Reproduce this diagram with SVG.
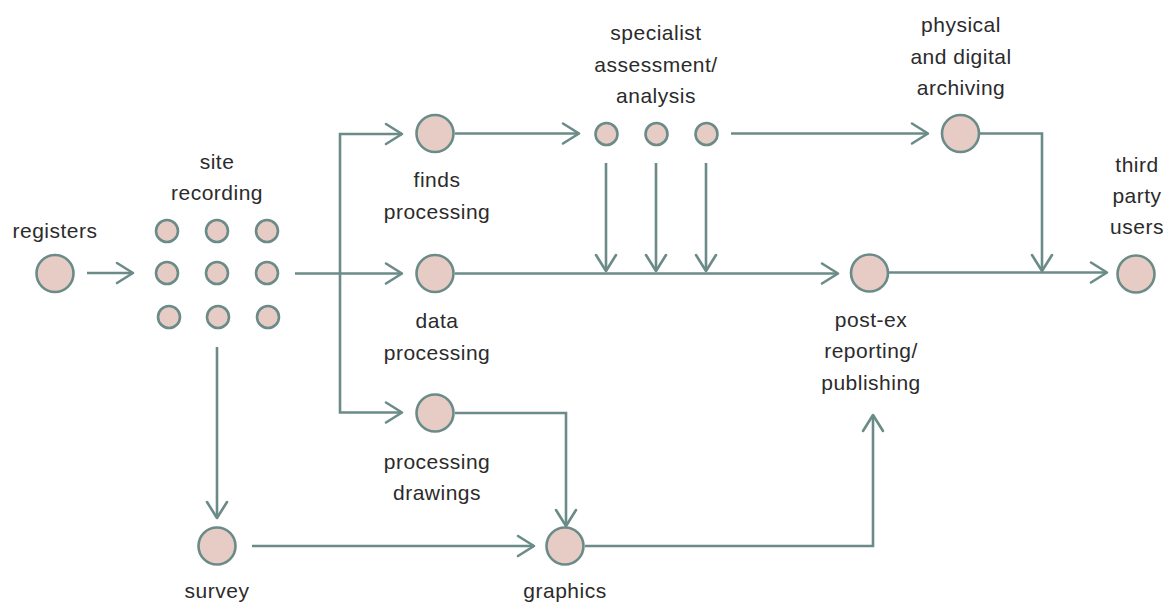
<svg xmlns="http://www.w3.org/2000/svg" width="1165" height="602" viewBox="0 0 1165 602">
<defs>
<style>
.n{fill:#e6ccc4;stroke:#6b8b88;stroke-width:2.6}
.c path{fill:none;stroke:#6b8b88;stroke-width:2.6;marker-end:url(#a)}
.c path.p{marker-end:none}
text{font-family:"Liberation Sans",Arial,sans-serif;font-size:21px;letter-spacing:0.5px;fill:#2b2b2b;text-anchor:middle}
</style>
<marker id="a" markerUnits="userSpaceOnUse" markerWidth="30" markerHeight="30" viewBox="-20 -15 30 30" refX="0" refY="0" orient="auto">
<path d="M-16,-10 L0,0 L-16,10" fill="none" stroke="#6b8b88" stroke-width="2.6" stroke-linecap="round" stroke-linejoin="round"/>
</marker>
</defs>
<rect width="1165" height="602" fill="#ffffff"/>
<g class="c" id="connectors">
<path d="M87,273 H133"/>
<path class="p" d="M295,273.5 H340"/>
<path d="M340,273.5 H402"/>
<path d="M340,273.5 V134 H402"/>
<path d="M340,273.5 V412.5 H402"/>
<path d="M455,133.5 H579"/>
<path d="M731,133.5 H928"/>
<path d="M980,133.5 H1042 V271"/>
<path d="M606,163 V271"/>
<path d="M656,163 V271"/>
<path d="M706,163 V271"/>
<path d="M455,273.5 H838"/>
<path d="M889,272.5 H1107"/>
<path d="M217,347 V518"/>
<path d="M252,546 H534"/>
<path d="M455,413 H566 V526"/>
<path d="M585,546 H873 V415"/>
</g>
<g id="registers"><circle class="n" cx="55" cy="273.5" r="18.5"/><text x="55" y="238">registers</text></g>
<g id="site-recording">
<circle class="n" cx="167" cy="231" r="11"/><circle class="n" cx="217" cy="231" r="11"/><circle class="n" cx="267" cy="231" r="11"/>
<circle class="n" cx="167" cy="273" r="11"/><circle class="n" cx="217" cy="273" r="11"/><circle class="n" cx="267" cy="273" r="11"/>
<circle class="n" cx="169" cy="317" r="11"/><circle class="n" cx="218" cy="317" r="11"/><circle class="n" cx="268" cy="317" r="11"/>
<text x="217" y="169">site</text><text x="217" y="200">recording</text>
</g>
<g id="finds-processing"><circle class="n" cx="435" cy="133.5" r="18.5"/><text x="437" y="187">finds</text><text x="437" y="219">processing</text></g>
<g id="data-processing"><circle class="n" cx="435" cy="273.5" r="18.5"/><text x="437" y="328">data</text><text x="437" y="360">processing</text></g>
<g id="processing-drawings"><circle class="n" cx="435" cy="413" r="18.5"/><text x="437" y="469">processing</text><text x="437" y="500">drawings</text></g>
<g id="specialist">
<circle class="n" cx="606.5" cy="134" r="11"/><circle class="n" cx="656.5" cy="134" r="11"/><circle class="n" cx="706.5" cy="134" r="11"/>
<text x="656" y="40">specialist</text><text x="656" y="72">assessment/</text><text x="656" y="103">analysis</text>
</g>
<g id="archiving"><circle class="n" cx="960.5" cy="133.5" r="18.5"/><text x="961" y="32">physical</text><text x="961" y="64">and digital</text><text x="961" y="95">archiving</text></g>
<g id="post-ex"><circle class="n" cx="869.5" cy="273" r="18.5"/><text x="871" y="327">post-ex</text><text x="871" y="358">reporting/</text><text x="871" y="390">publishing</text></g>
<g id="third-party"><circle class="n" cx="1136" cy="274" r="18.5"/><text x="1137" y="172">third</text><text x="1137" y="203">party</text><text x="1137" y="234">users</text></g>
<g id="survey"><circle class="n" cx="217" cy="546" r="18.5"/><text x="217" y="598">survey</text></g>
<g id="graphics"><circle class="n" cx="565" cy="546" r="18.5"/><text x="565" y="598">graphics</text></g>
</svg>
